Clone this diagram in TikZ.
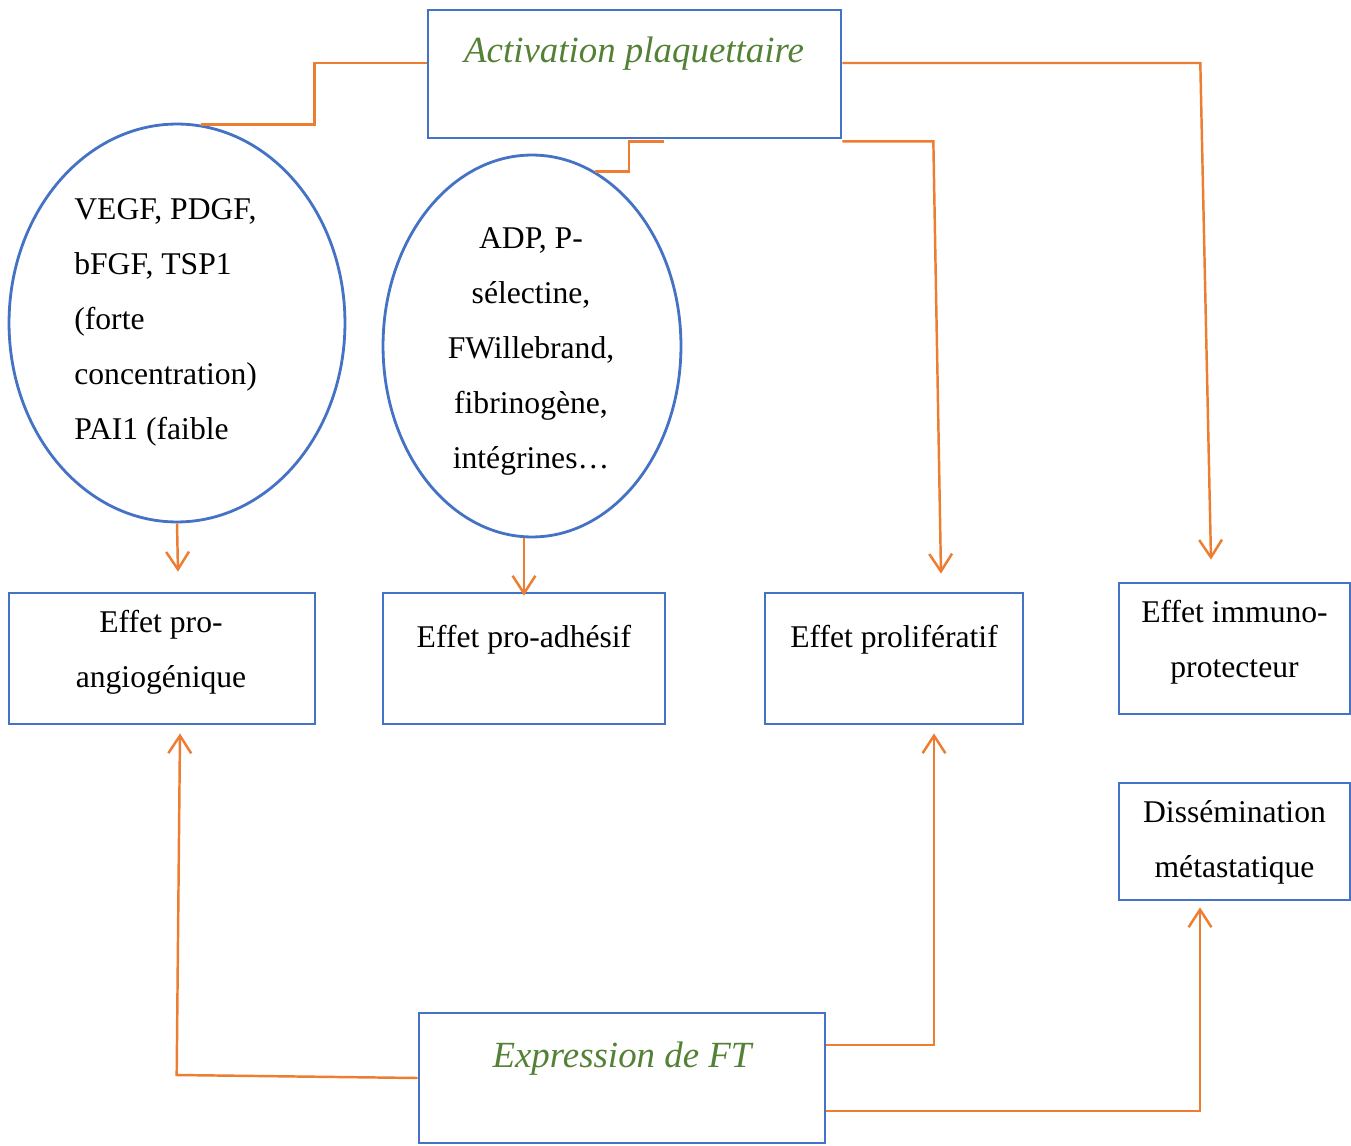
\documentclass[tikz,border=0pt]{standalone}
\usepackage{fontspec}
\setmainfont{Liberation Serif}
\usepackage{tikz}
\definecolor{boxblue}{RGB}{68, 114, 196}
\definecolor{linkorange}{RGB}{237, 125, 49}
\definecolor{titlegreen}{RGB}{83, 129, 53}
\usetikzlibrary{shapes.geometric, arrows.meta, positioning, calc}

\begin{document}
\begin{tikzpicture}[x=0.02cm, y=-0.02cm,
    box/.style={draw=boxblue, line width=1.6pt, rectangle, inner sep=0pt},
    blob/.style={draw=boxblue, line width=1.6pt, ellipse, inner sep=0pt},
    txt/.style={font=\fontsize{18}{31.2}\selectfont, inner sep=0pt, anchor=base, align=center},
    title/.style={font=\fontsize{21}{30}\selectfont\itshape, text=titlegreen, inner sep=0pt, anchor=base},
    link/.style={draw=linkorange, line width=1.4pt},
    arrow/.style={link, -{Straight Barb[length=10pt, width=13pt]}}
]
    \useasboundingbox (0,0) rectangle (1351,1145);

    % Activation box
    \node[box, minimum width=8.26cm, minimum height=2.56cm] (act) at (634.5,74) {};
    \node[title] (acttxt) at (634,63) {Activation plaquettaire};

    % Ellipses (text anchored on the last line)
    \node[blob, minimum width=6.72cm, minimum height=7.96cm] (e1) at (177,323) {};
    \node[txt, anchor=base west, align=left] (e1txt) at (74,439) {
        VEGF, PDGF,\\ bFGF, TSP1\\ (forte\\ concentration)\\ PAI1 (faible
    };
    \node[blob, minimum width=5.96cm, minimum height=7.64cm] (e2) at (532,346) {};
    \node[txt] (e2txt) at (531,468) {
        ADP, P-\\ sélectine,\\ FWillebrand,\\ fibrinogène,\\ intégrines…
    };

    % Effect boxes
    \node[box, minimum width=6.12cm, minimum height=2.62cm] (ang) at (162,658.5) {};
    \node[txt] (angtxt) at (161,687) {Effet pro-\\ angiogénique};
    \node[box, minimum width=5.64cm, minimum height=2.62cm] (adh) at (524,658.5) {};
    \node[txt] (adhtxt) at (524,647) {Effet pro-adhésif};
    \node[box, minimum width=5.16cm, minimum height=2.62cm] (pro) at (894,658.5) {};
    \node[txt] (protxt) at (894,647) {Effet prolifératif};
    \node[box, minimum width=4.62cm, minimum height=2.62cm] (imm) at (1234.5,648.5) {};
    \node[txt] (immtxt) at (1234.5,677) {Effet immuno-\\ protecteur};
    \node[box, minimum width=4.62cm, minimum height=2.34cm] (dis) at (1234.5,841.5) {};
    \node[txt] (distxt) at (1234.5,877) {Dissémination\\ métastatique};

    % Expression box
    \node[box, minimum width=8.12cm, minimum height=2.6cm] (ft) at (622,1078) {};
    \node[title] (fttxt) at (622,1067) {Expression de FT};

    % Arrow ends
    \coordinate (angtop) at ([xshift=.32cm, yshift=.4cm]ang.north);
    \coordinate (prot) at ([xshift=.94cm, yshift=.36cm]pro.north);
    \coordinate (immtop) at ([xshift=-.47cm, yshift=.44cm]imm.north);
    \coordinate (angbot) at ([xshift=.36cm, yshift=-.16cm]ang.south);
    \coordinate (probot) at ([xshift=.8cm, yshift=-.16cm]pro.south);
    \coordinate (disbot) at ([xshift=-.69cm, yshift=-.12cm]dis.south);

    % Links from activation
    \draw[link] ([yshift=.22cm]act.west) -- ++(-2.24cm,0) |- (e1.83);
    \draw[link] ([xshift=.59cm, yshift=-.04cm]act.south) -- ++(-.7cm,0) |- (e2.70);
    \draw[arrow] ([yshift=-.04cm]act.south east) -- ++(1.82cm,0) -- (prot);
    \draw[arrow] ([yshift=.22cm]act.east) -- ++(7.16cm,0) -- (immtop);

    % Ellipses to effects
    \draw[arrow] (e1.south) -- (angtop);
    \draw[arrow] (adh.north |- e2.south) -- ([yshift=-.08cm]adh.north);

    % Links from expression
    \draw[arrow] (ft.west) -- ++(-4.82cm,.06cm) -- (angbot);
    \draw[arrow] ([yshift=.66cm]ft.east) -| (probot);
    \draw[arrow] ([yshift=-.66cm]ft.east) -| (disbot);
\end{tikzpicture}
\end{document}
